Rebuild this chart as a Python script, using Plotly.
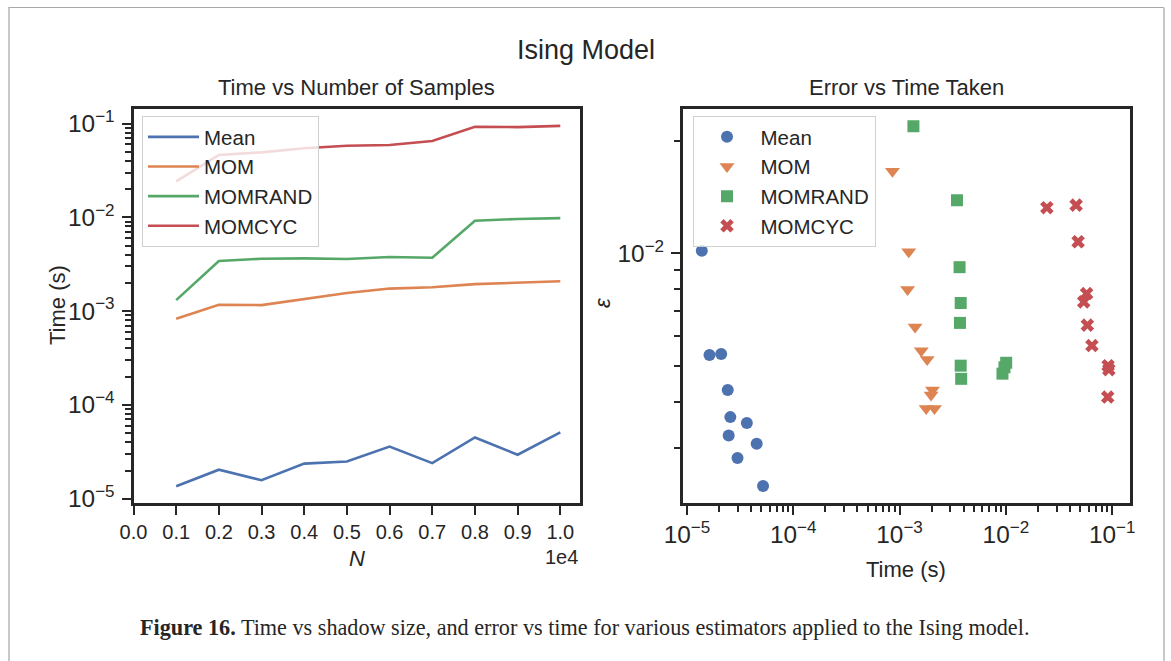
import plotly.graph_objects as go

# ---------------- data ----------------
N = [1000, 2000, 3000, 4000, 5000, 6000, 7000, 8000, 9000, 10000]
N_tick_vals = [0, 1000, 2000, 3000, 4000, 5000, 6000, 7000, 8000, 9000, 10000]
N_tick_text = ["0.0", "0.1", "0.2", "0.3", "0.4", "0.5", "0.6", "0.7", "0.8", "0.9", "1.0"]

estimators = ["Mean", "MOM", "MOMRAND", "MOMCYC"]

time_mean = [1.36e-5, 2.04e-5, 1.58e-5, 2.37e-5, 2.5e-5, 3.6e-5, 2.4e-5, 4.5e-5, 2.95e-5, 5.1e-5]
time_mom = [8.3e-4, 1.17e-3, 1.16e-3, 1.35e-3, 1.56e-3, 1.74e-3, 1.8e-3, 1.94e-3, 2.0e-3, 2.08e-3]
time_momrand = [1.31e-3, 3.42e-3, 3.62e-3, 3.65e-3, 3.6e-3, 3.77e-3, 3.71e-3, 9.2e-3, 9.6e-3, 9.8e-3]
time_momcyc = [0.0242, 0.0462, 0.0493, 0.0544, 0.058, 0.059, 0.0652, 0.0923, 0.0915, 0.0943]

sc_mean_t = [1.38e-5, 1.63e-5, 2.1e-5, 2.42e-5, 2.56e-5, 2.47e-5, 3.66e-5, 4.53e-5, 2.99e-5, 5.2e-5]
sc_mean_err = [0.01016, 5.34e-3, 5.37e-3, 4.3e-3, 3.64e-3, 3.25e-3, 3.51e-3, 3.09e-3, 2.83e-3, 2.38e-3]

sc_mom_t = [8.57e-4, 1.22e-3, 1.19e-3, 1.4e-3, 1.6e-3, 1.82e-3, 2.04e-3, 1.98e-3, 1.78e-3, 2.13e-3]
sc_mom_err = [0.0166, 0.01009, 8.0e-3, 6.35e-3, 5.48e-3, 5.19e-3, 4.3e-3, 4.17e-3, 3.84e-3, 3.84e-3]

sc_momrand_t = [1.35e-3, 3.47e-3, 3.67e-3, 3.76e-3, 3.7e-3, 3.76e-3, 3.8e-3, 9.29e-3, 9.7e-3, 1.007e-2]
sc_momrand_err = [0.0219, 0.01387, 9.18e-3, 7.36e-3, 6.51e-3, 5.0e-3, 4.61e-3, 4.76e-3, 4.95e-3, 5.09e-3]

sc_momcyc_t = [0.0243, 0.0458, 0.0478, 0.0575, 0.054, 0.0584, 0.0645, 0.0915, 0.093, 0.0908]
sc_momcyc_err = [0.01325, 0.01346, 0.01074, 7.8e-3, 7.41e-3, 6.42e-3, 5.66e-3, 5.0e-3, 4.88e-3, 4.12e-3]

# ---------------- style ----------------
W, H = 1171, 661
FONT = "Liberation Sans, Arial, sans-serif"
INK = "#262626"
COLORS = ["#4C72B0", "#DD8452", "#55A868", "#C44E52"]
SYMBOLS = ["circle", "triangle-down", "square", "x"]
SIZES = [12, 13, 12, 12]


def px(x):
    return x / W


def py(y):
    return 1 - y / H


fig = go.Figure()

line_series = [time_mean, time_mom, time_momrand, time_momcyc]
for name, ys, c in zip(estimators, line_series, COLORS):
    fig.add_trace(go.Scatter(x=N, y=ys, mode="lines", name=name,
                             line=dict(color=c, width=2.6),
                             xaxis="x", yaxis="y", legend="legend"))

scatter_series = [(sc_mean_t, sc_mean_err), (sc_mom_t, sc_mom_err),
                  (sc_momrand_t, sc_momrand_err), (sc_momcyc_t, sc_momcyc_err)]
for name, (xs, ys), c, s, sz in zip(estimators, scatter_series, COLORS, SYMBOLS, SIZES):
    fig.add_trace(go.Scatter(x=xs, y=ys, mode="markers", name=name,
                             marker=dict(color=c, symbol=s, size=sz, line=dict(width=0)),
                             xaxis="x2", yaxis="y2", legend="legend2"))

axis_common = dict(showline=True, linewidth=3, linecolor=INK, mirror=True,
                   ticks="outside", ticklen=9, tickwidth=2.2, tickcolor=INK,
                   showgrid=False, zeroline=False, automargin=False)
minor_log = dict(ticks="outside", ticklen=6, tickwidth=1.6, tickcolor=INK,
                 dtick="D1", showgrid=False)

ydom = [py(503), py(108.5)]

fig.update_layout(
    template="none",
    width=W, height=H,
    margin=dict(l=0, r=0, t=0, b=0, pad=0, autoexpand=False),
    paper_bgcolor="white", plot_bgcolor="white",
    font=dict(family=FONT, color=INK),
    xaxis=dict(domain=[px(133.5), px(579.5)], range=[0, 10450],
               tickvals=N_tick_vals, ticktext=N_tick_text,
               tickfont=dict(size=20), anchor="y", **axis_common),
    yaxis=dict(domain=ydom, type="log", range=[-5.045, -0.84], dtick=1,
               exponentformat="power", showexponent="all", ticklabelstandoff=3,
               tickfont=dict(size=19.5), minor=minor_log, anchor="x", **axis_common),
    xaxis2=dict(domain=[px(683), px(1129.5)], type="log", range=[-5.037, -0.837], dtick=1,
                exponentformat="power", showexponent="all",
                tickfont=dict(size=19.5), minor=minor_log, anchor="y2", **axis_common),
    yaxis2=dict(domain=ydom, type="log", range=[-2.669, -1.612], dtick=1,
                exponentformat="power", showexponent="all", ticklabelstandoff=3,
                tickfont=dict(size=19.5), minor=minor_log, anchor="x2", **axis_common),
    legend=dict(x=px(142), y=py(116), xanchor="left", yanchor="top",
                bgcolor="rgba(255,255,255,0.8)", bordercolor="#d0d0d0", borderwidth=1,
                font=dict(size=20.5, family=FONT, color=INK), itemwidth=51, tracegroupgap=0),
    legend2=dict(x=px(692.5), y=py(116), xanchor="left", yanchor="top",
                 bgcolor="rgba(255,255,255,0.8)", bordercolor="#d0d0d0", borderwidth=1,
                 font=dict(size=20.5, family=FONT, color=INK), itemwidth=57, tracegroupgap=0),
    showlegend=True,
)

ann = []


def text(x, y, s, size, **kw):
    d = dict(x=px(x), y=py(y), xref="paper", yref="paper", text=s, showarrow=False,
             font=dict(size=size, family=kw.pop("family", FONT), color=INK),
             xanchor=kw.pop("xanchor", "center"), yanchor=kw.pop("yanchor", "middle"))
    d.update(kw)
    ann.append(d)


text(586, 50, "Ising Model", 27)
text(356.5, 88, "Time vs Number of Samples", 22)
text(906, 88, "Error vs Time Taken", 22)
text(57, 305, "Time (s)", 22, textangle=-90)
text(602, 303, "<i>ε</i>", 22, textangle=-90)
text(356.5, 558, "<i>N</i>", 22)
text(580, 557, "1e4", 20, xanchor="right")
text(906, 569, "Time (s)", 22)
text(138, 627, "<b>Figure 16.</b> Time vs shadow size, and error vs time for various estimators applied to the Ising model.",
     22.2, family="Liberation Serif, Times New Roman, serif", xanchor="left")
fig.update_layout(annotations=ann)

# page border
shapes = [
    dict(type="line", xref="paper", yref="paper", x0=px(8), x1=px(1164), y0=py(7.5), y1=py(7.5),
         line=dict(color="#a8a8a8", width=1)),
    dict(type="line", xref="paper", yref="paper", x0=px(9), x1=px(9), y0=py(7.5), y1=0,
         line=dict(color="#c8c8c8", width=2)),
    dict(type="line", xref="paper", yref="paper", x0=px(1164), x1=px(1164), y0=py(7.5), y1=0,
         line=dict(color="#c8c8c8", width=2)),
]
fig.update_layout(shapes=shapes)

fig.write_html("out.html")
